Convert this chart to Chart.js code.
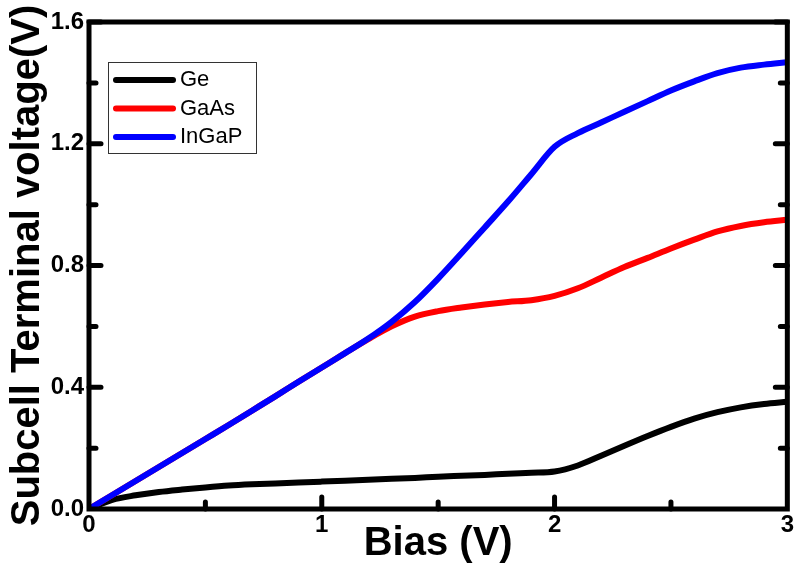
<!DOCTYPE html>
<html>
<head>
<meta charset="utf-8">
<script src="https://cdn.jsdelivr.net/npm/chart.js@4.4.1/dist/chart.umd.min.js"></script>
<style>
  html, body { margin: 0; padding: 0; background: #fff; }
  canvas { display: block; }
</style>
</head>
<body>
<canvas id="myChart" width="796" height="566"></canvas>
<script>
// bias points (V)
var bias = [0, 0.1, 0.2, 0.3, 0.4, 0.5, 0.6, 0.7, 0.8, 0.9, 1.0, 1.1, 1.2, 1.3, 1.4, 1.5,
            1.6, 1.7, 1.8, 1.9, 2.0, 2.1, 2.2, 2.3, 2.4, 2.5, 2.6, 2.7, 2.8, 2.9, 3.0];

var ge = [0, 0.03, 0.045, 0.056, 0.064, 0.071, 0.077, 0.081, 0.084, 0.087, 0.09, 0.093, 0.096, 0.099, 0.102, 0.106,
          0.109, 0.112, 0.116, 0.119, 0.123, 0.143, 0.175, 0.208, 0.24, 0.27, 0.297, 0.318, 0.334, 0.345, 0.352];

var gaas = [0, 0.046, 0.092, 0.138, 0.184, 0.23, 0.276, 0.323, 0.37, 0.418, 0.465, 0.512, 0.558, 0.6, 0.632, 0.65,
            0.662, 0.672, 0.68, 0.686, 0.7, 0.725, 0.76, 0.795, 0.825, 0.856, 0.885, 0.912, 0.93, 0.942, 0.95];

var ingap = [0, 0.046, 0.092, 0.138, 0.184, 0.23, 0.276, 0.323, 0.37, 0.418, 0.465, 0.512, 0.56, 0.615, 0.68, 0.757,
             0.84, 0.925, 1.01, 1.1, 1.19, 1.235, 1.27, 1.305, 1.34, 1.375, 1.405, 1.432, 1.45, 1.46, 1.468];

var seriesNames = ['Ge', 'GaAs', 'InGaP'];
var seriesColors = ['#000000', '#ff0000', '#0000ff'];

var yTicks = [0, 0.4, 0.8, 1.2, 1.6];
var xTicks = [0, 1, 2, 3];

function toPoints(ys) {
  return bias.map(function (x, i) { return { x: x, y: ys[i] }; });
}

// frame + inward ticks like the origin plot
var framePlugin = {
  id: 'frame',
  afterDatasetsDraw: function (chart) {
    var ctx = chart.ctx;
    var a = chart.chartArea;
    var xs = chart.scales.x, ys = chart.scales.y;
    ctx.save();
    ctx.strokeStyle = '#000';
    ctx.lineWidth = 5;
    ctx.lineCap = 'round';
    ctx.beginPath();
    // y ticks, left and right, major every 0.4 and minor between
    for (var v = 0.2; v < 1.6; v += 0.2) {
      var py = ys.getPixelForValue(v);
      var major = Math.abs(v / 0.4 - Math.round(v / 0.4)) < 0.01;
      var len = major ? 12 : 7;
      ctx.moveTo(a.left, py); ctx.lineTo(a.left + len, py);
      ctx.moveTo(a.right, py); ctx.lineTo(a.right - len, py);
    }
    for (var u = 0.5; u < 3; u += 0.5) {
      var px = xs.getPixelForValue(u);
      var lenx = (u % 1 === 0) ? 12 : 7;
      ctx.moveTo(px, a.bottom); ctx.lineTo(px, a.bottom - lenx);
    }
    ctx.stroke();
    ctx.lineCap = 'butt';
    ctx.strokeRect(a.left, a.top, a.right - a.left, a.bottom - a.top);
    ctx.restore();
  }
};

// legend box inside the plot
var boxLegend = {
  id: 'boxLegend',
  afterDraw: function (chart) {
    var ctx = chart.ctx;
    var a = chart.chartArea;
    var left = a.left + 19, top = a.top + 40;
    ctx.save();
    ctx.fillStyle = '#fff';
    ctx.fillRect(left, top, 148, 91);
    ctx.strokeStyle = '#333';
    ctx.lineWidth = 1;
    ctx.strokeRect(left + 0.5, top + 0.5, 148, 91);
    ctx.font = '22px "Liberation Sans", Arial, sans-serif';
    ctx.textBaseline = 'middle';
    chart.data.datasets.forEach(function (ds, i) {
      var yy = top + 18 + i * 28.5;
      ctx.strokeStyle = ds.borderColor;
      ctx.lineWidth = 6;
      ctx.lineCap = 'round';
      ctx.beginPath();
      ctx.moveTo(left + 8, yy);
      ctx.lineTo(left + 65, yy);
      ctx.stroke();
      ctx.fillStyle = '#000';
      ctx.fillText(ds.label, left + 72, yy);
    });
    ctx.restore();
  }
};

var datasets = [ge, gaas, ingap].map(function (ys, i) {
  return {
    label: seriesNames[i],
    data: toPoints(ys),
    borderColor: seriesColors[i],
    backgroundColor: seriesColors[i],
    borderWidth: 6,
    pointRadius: 0,
    cubicInterpolationMode: 'monotone',
    order: 2 - i
  };
});

var tickFont = { family: '"Liberation Sans", Arial, sans-serif', size: 24, weight: 'bold' };
var titleFont = { family: '"Liberation Sans", Arial, sans-serif', size: 40, weight: 'bold' };

new Chart(document.getElementById('myChart'), {
  type: 'line',
  data: { datasets: datasets },
  options: {
    responsive: false,
    animation: false,
    layout: { padding: { top: 22, right: 5, left: 0, bottom: 0 }, autoPadding: false },
    plugins: {
      legend: { display: false },
      tooltip: { enabled: false }
    },
    scales: {
      x: {
        type: 'linear',
        min: 0,
        max: 3,
        afterBuildTicks: function (s) { s.ticks = xTicks.map(function (v) { return { value: v }; }); },
        afterFit: function (s) { s.height = 57; },
        grid: { display: false, drawTicks: false },
        border: { display: false },
        ticks: {
          color: '#000',
          font: tickFont,
          padding: 2,
          maxRotation: 0,
          callback: function (v) { return String(v); }
        },
        title: { display: true, text: 'Bias (V)', color: '#000', font: titleFont, padding: { top: 0, bottom: -2 } }
      },
      y: {
        min: 0,
        max: 1.6,
        afterBuildTicks: function (s) { s.ticks = yTicks.map(function (v) { return { value: v }; }); },
        afterFit: function (s) { s.width = 89; },
        grid: { display: false, drawTicks: false },
        border: { display: false },
        ticks: {
          color: '#000',
          font: tickFont,
          padding: 5,
          callback: function (v) { return Number(v).toFixed(1); }
        },
        title: { display: true, text: 'Subcell Terminal voltage(V)', color: '#000', font: titleFont, padding: { top: 4, bottom: 0 } }
      }
    }
  },
  plugins: [framePlugin, boxLegend]
});
</script>
</body>
</html>
